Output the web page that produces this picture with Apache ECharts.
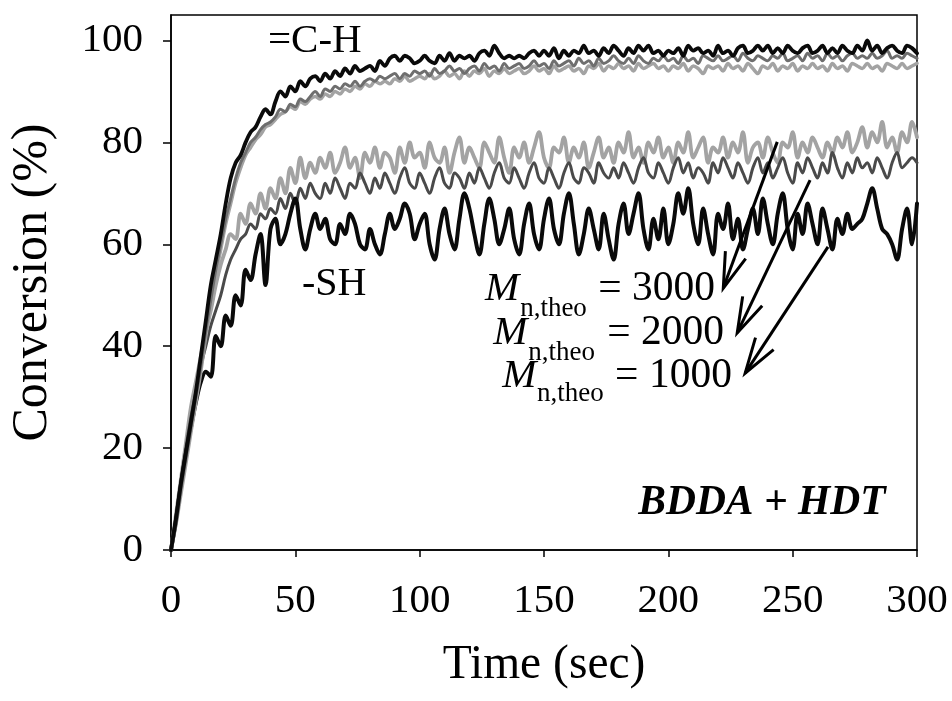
<!DOCTYPE html>
<html>
<head>
<meta charset="utf-8">
<script src="https://cdn.jsdelivr.net/npm/echarts@6/dist/echarts.min.js"></script>
<style>
html,body{margin:0;padding:0;background:#fff;}
#chart{width:952px;height:701px;}
</style>
</head>
<body>
<div id="chart"></div>
<script>
// Time axis (sec)
const times = [
  0,2,4,6,8,10,12,14,16,18,
  20,22,24,26,28,30,32,34,36,38,
  40,42,44,46,48,50,52,54,56,58,
  60,62,64,66,68,70,72,74,76,78,
  80,82,84,86,88,90,92,94,96,98,
  100,102,104,106,108,110,112,114,116,118,
  120,122,124,126,128,130,132,134,136,138,
  140,142,144,146,148,150,152,154,156,158,
  160,162,164,166,168,170,172,174,176,178,
  180,182,184,186,188,190,192,194,196,198,
  200,202,204,206,208,210,212,214,216,218,
  220,222,224,226,228,230,232,234,236,238,
  240,242,244,246,248,250,252,254,256,258,
  260,262,264,266,268,270,272,274,276,278,
  280,282,284,286,288,290,292,294,296,298,
  300
];
// =C-H conversion, Mn,theo = 1000 (black)
const chMn1000 = [
  0,6,13,19,25,31,38,45,52,57,
  62,68,73,76,77.5,80,82,83,85,86.5,
  85.5,88,90,89,91,90,92,91,92.5,93,
  92,93.5,92.5,94,93,94.5,93.5,95,94,94.5,
  95,94,96,95,96.5,97,96,97,96.5,95.5,
  96,97,96,95.5,97,96,97.5,96,97,96.5,
  97,96,97.5,98,97,99,97.5,96.5,97,96.5,
  97,96.5,97.5,98,97,98,97,98.5,96.5,98,
  97,98,97.5,99,97.5,98,97,98.5,97.5,99,
  98,97,98.5,97.5,99,98,99,97.5,98,97,
  98,97.5,98.5,97,99,98,98.5,97.5,98,97,
  99,97.5,98,97,98.5,99,97.5,98,99,98,
  99,97.5,98.5,97.5,99,98,97.5,98.5,99,97.5,
  98,99,97.5,98.5,97.5,99,98,97.5,99,98,
  100,98,99,97.5,98.5,99,98,97.5,99,98.5,
  97.5
];
// =C-H conversion, Mn,theo = 2000 (dark grey)
const chMn2000 = [
  0,5,12,18,24,30,36,43,49,55,
  60,65,69,73,76,78,80,81,82.5,83.5,
  84,85,86.5,86,87.5,87,88.5,88,89,90,
  89,90.5,90,91,90.5,91.5,91,92,91,92,
  92.5,92,93,92.5,93,93.5,92.5,93.5,93,94,
  93.5,94,93,94.5,93.5,94,95,94,94.5,93.5,
  94.5,95,94,95.5,94.5,95,94,95.5,94.5,95,
  95.5,94.5,95,96,95,95.5,94.5,96,95,95.5,
  96,95,96.5,95.5,96,95,96.5,95.5,96,97,
  96,95.5,96.5,95.5,97,96,95.5,96.5,96,97,
  96,96.5,95.5,97,96,96.5,95.5,97,96.5,96,
  97,96,96.5,97,96,97.5,96.5,96,97,96.5,
  96,97,96.5,97.5,96,96.5,97,96,97.5,96.5,
  97,96,97.5,96.5,97,96,97,97.5,96.5,97,
  96.5,97.5,96.5,97,98,96.5,97,96.5,97.5,97,
  96.5
];
// =C-H conversion, Mn,theo = 3000 (light grey)
const chMn3000 = [
  0,5,11,17,23,29,35,42,48,54,
  59,64,68,72,75,77.5,79,80.5,81.5,83,
  83.5,84.5,85.5,86,87,86.5,88,87.5,88.5,89,
  88.5,89.5,89,90,89.5,90.5,90,91,90.5,91.5,
  91,92,91.5,92,91.5,92.5,92,93,92,92.5,
  93,92.5,93.5,92.5,93,94,93,93.5,92.5,94,
  93,94,93.5,94.5,93,94,93.5,94.5,93.5,94,
  94.5,93.5,94,95,94,94.5,93.5,95,94,94.5,
  95,94,94.5,93.5,95,94.5,95.5,94,95,94.5,
  95.5,94.5,95,94,95.5,94.5,95,95.5,94.5,95,
  94,95,94.5,95.5,94,95,94.5,93.5,95,94.5,
  95,94,95.5,94.5,95,94,95.5,94.5,93.5,95,
  94.5,95.5,94,95,94.5,95.5,94,95,94.5,95.5,
  94.5,95,94,95.5,94.5,95,94,95.5,95,94.5,
  95.5,94.5,95,94,95.5,95,94.5,95.5,94.5,95,
  95.5
];
// -SH conversion, Mn,theo = 1000 (black)
const shMn1000 = [
  0,6,13,19,24,29,33,35,34,42,
  40,46,44,50,48,55,53,58,62,52,
  63,65,60,62,66,69,63,59,63,66,
  63,65,61,60,64,62,66,64,60,59,
  63,60,58,62,66,63,65,68,66,61,
  64,66,60,57,63,67,62,59,65,70,
  67,62,58,64,69,65,60,63,67,61,
  58,64,68,62,59,65,69,63,60,66,
  70,64,58,62,67,63,59,66,61,57,
  64,68,62,66,70,63,59,65,61,67,
  60,64,70,66,71,64,60,67,62,58,
  66,63,68,61,65,59,63,67,62,69,
  64,60,66,70,63,59,66,62,68,64,
  60,67,63,59,65,62,66,63,64,65,
  68,71,67,63,62,60,57,63,67,60,
  68
];
// -SH conversion, Mn,theo = 2000 (dark grey)
const shMn2000 = [
  0,6,13,20,26,31,36,40,44,47,
  50,54,57,59,61,62,64,63,66,65,
  67,66,69,67,70,68,71,69,72,70,
  69,72,70,73,71,69,72,71,74,72,
  70,73,71,74,72,70,73,75,72,71,
  74,72,70,73,75,72,71,74,73,71,
  74,72,75,73,71,74,76,73,72,75,
  73,71,74,76,73,72,75,73,71,74,
  76,73,72,75,74,72,76,74,73,75,
  73,76,74,72,75,77,74,73,76,74,
  72,75,77,74,76,73,75,74,72,76,
  74,77,75,73,76,74,72,75,77,74,
  76,73,75,77,74,72,76,74,77,75,
  73,76,74,78,75,73,76,74,77,75,
  76,74,77,75,73,76,78,75,76,77,
  76
];
// -SH conversion, Mn,theo = 3000 (light grey)
const shMn3000 = [
  0,7,14,21,28,33,38,43,47,52,
  56,59,62,61,66,64,68,66,70,67,
  71,69,73,70,75,72,77,73,76,74,
  77,75,78,74,76,79,75,77,73,78,
  76,79,75,78,77,74,79,76,80,77,
  78,75,80,77,76,79,74,78,81,76,
  79,77,75,80,78,76,81,77,74,79,
  77,80,76,79,82,77,75,79,78,81,
  76,79,77,80,75,78,81,77,79,76,
  80,78,82,77,79,76,80,78,81,77,
  79,76,80,78,82,77,79,81,76,79,
  78,81,77,80,78,82,76,79,80,77,
  81,78,76,80,79,82,77,80,78,81,
  79,77,80,78,81,79,82,78,80,83,
  79,82,80,84,79,81,78,82,80,84,
  81
];
const xTicks = [0,50,100,150,200,250,300];
const yTicks = [0,20,40,60,80,100];

const FONT = '"Liberation Serif","Times New Roman",serif';
const pairs = arr => times.map((t,i)=>[t, arr[i]]);

const chart = echarts.init(document.getElementById('chart'), null, {renderer:'canvas'});

function lineSeries(name, arr, color, width){
  return {
    name, type:'line', data: pairs(arr), showSymbol:false, symbol:'none',
    smooth:0.35, lineStyle:{color, width, join:'round', cap:'round'}, z:2
  };
}

const option = {
  animation:false,
  backgroundColor:'#fff',
  grid:{left:171, right:35, top:15, bottom:151, show:true, borderColor:'#000', borderWidth:1.5, backgroundColor:'transparent'},
  xAxis:{
    type:'value', min:0, max:300, interval:50,
    name:'Time (sec)', nameLocation:'middle', nameGap:92,
    nameTextStyle:{fontFamily:FONT, fontSize:47.5, color:'#000'},
    axisLine:{show:true, lineStyle:{color:'#000', width:1.5}},
    axisTick:{show:true, length:7, inside:false, lineStyle:{color:'#000', width:1.5}},
    axisLabel:{fontFamily:FONT, fontSize:41, color:'#000', margin:31, customValues:xTicks},
    splitLine:{show:false}
  },
  yAxis:{
    type:'value', min:0, max:105, interval:20,
    name:'Conversion (%)', nameLocation:'middle', nameGap:113,
    nameTextStyle:{fontFamily:FONT, fontSize:50, color:'#000'},
    axisLine:{show:true, lineStyle:{color:'#000', width:1.5}},
    axisTick:{show:true, length:8, inside:false, customValues:yTicks, lineStyle:{color:'#000', width:1.5}},
    axisLabel:{fontFamily:FONT, fontSize:41, color:'#000', margin:28, customValues:yTicks},
    splitLine:{show:false}
  },
  series:[
    lineSeries('-SH Mn 3000', shMn3000, '#a3a3a3', 3.8),
    lineSeries('-SH Mn 2000', shMn2000, '#4a4a4a', 3),
    lineSeries('-SH Mn 1000', shMn1000, '#0a0a0a', 4),
    lineSeries('=C-H Mn 3000', chMn3000, '#a3a3a3', 3.5),
    lineSeries('=C-H Mn 2000', chMn2000, '#6e6e6e', 3),
    lineSeries('=C-H Mn 1000', chMn1000, '#0a0a0a', 3.8)
  ]
};
chart.setOption(option);

// Annotations, anchored in data coordinates [time, conversion]
const textNotes = [
  {text:'=C-H', at:[39.0, 97.2], size:41, style:'normal', weight:'normal'},
  {text:'-SH', at:[52.7, 49.5], size:40, style:'normal', weight:'normal'},
  {text:'M', at:[126.3, 48.5], size:41, style:'italic', weight:'normal'},
  {text:'n,theo', at:[140.4, 45.5], size:27, style:'normal', weight:'normal'},
  {text:'= 3000', at:[171.8, 48.5], size:41.5, style:'normal', weight:'normal'},
  {text:'M', at:[129.6, 39.8], size:41, style:'italic', weight:'normal'},
  {text:'n,theo', at:[143.7, 36.9], size:27, style:'normal', weight:'normal'},
  {text:'= 2000', at:[175.4, 39.8], size:41.5, style:'normal', weight:'normal'},
  {text:'M', at:[133.2, 31.4], size:41, style:'italic', weight:'normal'},
  {text:'n,theo', at:[147.2, 28.9], size:27, style:'normal', weight:'normal'},
  {text:'= 1000', at:[178.6, 31.4], size:41.5, style:'normal', weight:'normal'},
  {text:'BDDA + HDT', at:[187.9, 6.5], size:41.5, style:'italic', weight:'bold'}
];
const arrowNotes = [
  {from:[243.8, 80.1], to:[222.1, 51.4]},
  {from:[257.0, 72.6], to:[227.7, 42.6]},
  {from:[264.2, 59.5], to:[230.9, 34.7]}
];

const els = [];
textNotes.forEach(n=>{
  const p = chart.convertToPixel({gridIndex:0}, n.at);
  els.push({
    type:'text', x:p[0], y:p[1] - 0.3375*n.size, z:10, silent:true,
    style:{text:n.text, font: n.style+' '+n.weight+' '+n.size+'px '+FONT, fill:'#000',
      textAlign:'left', align:'left', textVerticalAlign:'middle', verticalAlign:'middle'}
  });
});
arrowNotes.forEach(a=>{
  const s = chart.convertToPixel({gridIndex:0}, a.from);
  const t = chart.convertToPixel({gridIndex:0}, a.to);
  const ang = Math.atan2(s[1]-t[1], s[0]-t[0]);
  const d = 17*Math.PI/180, L = 37;
  const b1 = [t[0]+L*Math.cos(ang+d), t[1]+L*Math.sin(ang+d)];
  const b2 = [t[0]+L*Math.cos(ang-d), t[1]+L*Math.sin(ang-d)];
  els.push({type:'polyline', z:10, silent:true, shape:{points:[s,t]}, style:{stroke:'#000', lineWidth:3, fill:null}});
  els.push({type:'polyline', z:10, silent:true, shape:{points:[b1,t,b2]}, style:{stroke:'#000', lineWidth:3, fill:null, lineJoin:'miter'}});
});
chart.setOption({graphic:{elements:els}});
</script>
</body>
</html>
